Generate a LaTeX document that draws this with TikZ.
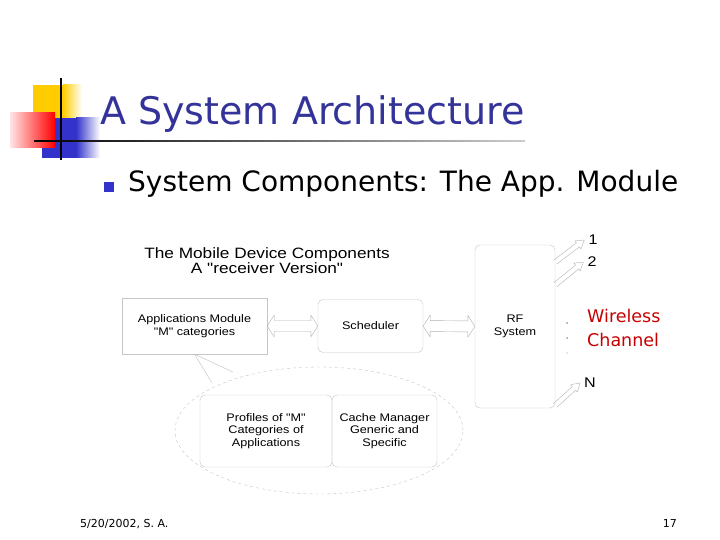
\documentclass[tikz,border=0pt]{standalone}
\usepackage{fontspec}
\setmainfont{DejaVu Sans}
\newfontfamily\arialfont[FakeStretch=1.15]{Liberation Sans}
\usetikzlibrary{shapes.geometric, calc, positioning}
\definecolor{titleblue}{RGB}{51,51,153}
\definecolor{bulletblue}{RGB}{51,51,204}
\definecolor{wirered}{RGB}{200,0,0}
\definecolor{logoyellow}{RGB}{255,204,0}

\newcommand{\linkarrow}[2]{%
  \coordinate (ha) at ($(#1)!7pt!(#2)$);
  \coordinate (hb) at ($(#2)!7pt!(#1)$);
  \draw [hollow] (#1) -- ($(ha)!11pt!90:(#2)$) -- ($(ha)!5.5pt!90:(#2)$) -- ($(hb)!5.5pt!90:(#2)$) -- ($(hb)!11pt!90:(#2)$) -- (#2)
    -- ($(hb)!11pt!-90:(#2)$) -- ($(hb)!5.5pt!-90:(#2)$) -- ($(ha)!5.5pt!-90:(#2)$) -- ($(ha)!11pt!-90:(#2)$) -- cycle;}
\newcommand{\rayarrow}[2]{%
  \coordinate (hb) at ($(#2)!8pt!(#1)$);
  \draw [hollow] ($(#1)!2.5pt!90:(#2)$) -- ($(hb)!2.5pt!90:(#2)$) -- ($(hb)!5pt!90:(#2)$) -- (#2)
    -- ($(hb)!5pt!-90:(#2)$) -- ($(hb)!2.5pt!-90:(#2)$) -- ($(#1)!2.5pt!-90:(#2)$);}

\begin{document}
\begin{tikzpicture}[x=1pt, y=-1pt,
  heading/.style={anchor=base west, inner sep=0pt},
  block/.style={rectangle, draw=gray!45, thin, align=center, inner sep=0pt, font=\arialfont\fontsize{11}{12.5}\selectfont},
  tag/.style={inner sep=4pt, font=\arialfont\fontsize{14}{16}\selectfont},
  hollow/.style={draw=gray!60, line width=0.4pt, line join=round}]

  \useasboundingbox (0,0) rectangle (720,540);
  \fill [white] (0,0) rectangle (720,540);

  \fill [logoyellow] (33,85) rectangle (63,120);
  \shade [left color=logoyellow, right color=white] (63,85) rectangle (82,120);
  \fill [bulletblue] (42,118) rectangle (76,158);
  \shade [left color=bulletblue, right color=white] (76,118) rectangle (100,158);
  \shade [left color=red!10, right color=red] (10,113) rectangle (55,148);
  \draw [line width=1.5pt] (61,78) -- (61,160);
  \shade [left color=black, right color=gray!40] (34,140.3) rectangle (525,141.7);

  \node [heading, text=titleblue, font=\fontsize{38}{40}\selectfont] (title) at (100,125) {A System Architecture};
  \node [fill=bulletblue, minimum size=10pt, inner sep=0pt] (bullet) at (108.5,187) {};
  \node [heading, font=\fontsize{28}{30}\selectfont] (point) at (128,192) {System Components: The App. Module};

  \node [inner sep=0pt, align=center, font=\arialfont\fontsize{15}{13}\selectfont] (caption) at (267,261) {The Mobile Device Components\\A "receiver Version"};

  \node [block, minimum width=145pt, minimum height=56pt] (apps) at (194.5,326) {Applications Module\\"M" categories};
  \node [block, rounded corners=5pt, minimum width=105pt, minimum height=53pt] (sched) at (370.5,326) {Scheduler};
  \node [block, rounded corners=5pt, minimum width=80pt, minimum height=163pt] (rf) at (515,326.5) {RF\\System};
  \node [ellipse, draw=gray!45, dashed, minimum width=288pt, minimum height=127pt] (store) at (319,430.5) {};
  \node [block, rounded corners=5pt, minimum width=132pt, minimum height=72pt] (profiles) at (266,431) {Profiles of "M"\\Categories of\\Applications};
  \node [block, rounded corners=5pt, minimum width=105pt, minimum height=72pt] (cache) at (384.5,431) {Cache Manager\\Generic and\\Specific};

  \node [tag] (one) at (593,240) {1};
  \node [tag] (two) at (592,262) {2};
  \node [tag] (last) at (590,383) {N};
  \node [anchor=west, align=left, inner sep=0pt, text=wirered, font=\fontsize{17.5}{24}\selectfont] (wireless) at (587,328) {Wireless\\Channel};

  \fill [gray!80] (567,323) circle (1);
  \fill [gray!80] (567,338) circle (1);
  \fill [gray!30] (567,353) circle (1);

  \linkarrow{apps.east}{sched.west}
  \linkarrow{sched.east}{rf.west}
  \rayarrow{rf.58}{one.west}
  \rayarrow{rf.46}{two.west}
  \rayarrow{rf.-63}{last.west}
  \coordinate (veeup) at ($(store.center)+(-86,-58.5)$);
  \coordinate (veelow) at ($(store.center)+(-107,-47.5)$);
  \draw [hollow, gray!50] (veeup) -- (apps.south) -- (veelow);

  \node [heading, font=\fontsize{11}{12}\selectfont] (date) at (80,527) {5/20/2002, S. A.};
  \node [heading, anchor=base east, font=\fontsize{11}{12}\selectfont] (page) at (677,527) {17};
\end{tikzpicture}
\end{document}
